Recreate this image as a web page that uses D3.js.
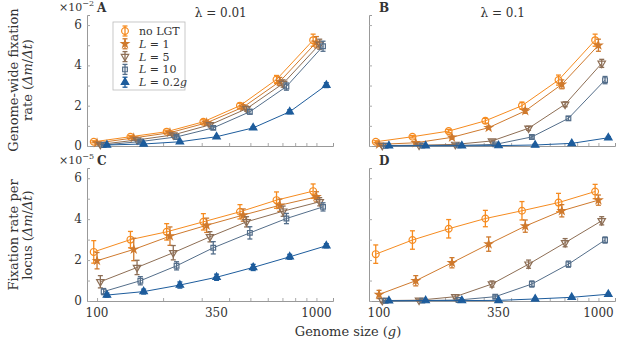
<!DOCTYPE html>
<html>
<head>
<meta charset="utf-8">
<script src="https://cdn.jsdelivr.net/npm/d3@7"></script>
<style>
  body { margin: 0; background: #fff; }
  text { font-family: "DejaVu Serif", serif; fill: #333; }
</style>
</head>
<body>
<div class="graph"></div>
<script>
// genome sizes (x) and series names
const genomeSizes = [100, 147, 215, 316, 464, 681, 1000]
const seriesNames = ["no LGT", "L = 1", "L = 5", "L = 10", "L = 0.2g"]
const seriesColors = ["#f68b1f", "#cf7a2e", "#8d6e55", "#546e8a", "#1d5c9c"]
const yTicks = [0, 2, 4, 6]
const xTicks = [100, 350, 1000]

// A: genome-wide rate, lambda = 0.01 (x10^-2)
const rateA_noLGT = [0.21, 0.46, 0.71, 1.2, 2.0, 3.3, 5.25]
const rateA_L1    = [0.15, 0.40, 0.66, 1.15, 1.93, 3.2, 5.15]
const rateA_L5    = [0.08, 0.30, 0.55, 1.05, 1.85, 3.1, 5.05]
const rateA_L10   = [0.05, 0.22, 0.45, 0.90, 1.70, 2.95, 4.95]
const rateA_L02g  = [0.05, 0.10, 0.21, 0.46, 0.90, 1.70, 3.02]
const errA_noLGT = [0.05, 0.06, 0.07, 0.1, 0.12, 0.2, 0.3]
const errA_L1    = [0.04, 0.05, 0.07, 0.1, 0.12, 0.2, 0.28]
const errA_L5    = [0.03, 0.04, 0.06, 0.09, 0.12, 0.18, 0.25]
const errA_L10   = [0.03, 0.04, 0.06, 0.08, 0.12, 0.18, 0.25]
const errA_L02g  = [0.02, 0.03, 0.04, 0.05, 0.06, 0.1, 0.12]

// B: genome-wide rate, lambda = 0.1 (x10^-2)
const rateB_noLGT = [0.21, 0.46, 0.74, 1.25, 2.0, 3.27, 5.25]
const rateB_L1    = [0.08, 0.16, 0.43, 0.91, 1.74, 3.06, 5.0]
const rateB_L5    = [0.02, 0.04, 0.08, 0.25, 0.88, 2.07, 4.1]
const rateB_L10   = [0.01, 0.02, 0.03, 0.08, 0.45, 1.37, 3.27]
const rateB_L02g  = [0.01, 0.01, 0.01, 0.02, 0.05, 0.13, 0.41]
const errB_noLGT = [0.05, 0.06, 0.08, 0.12, 0.18, 0.25, 0.3]
const errB_L1    = [0.03, 0.04, 0.06, 0.08, 0.12, 0.22, 0.3]
const errB_L5    = [0.01, 0.02, 0.03, 0.05, 0.1, 0.12, 0.2]
const errB_L10   = [0.01, 0.01, 0.02, 0.03, 0.06, 0.1, 0.18]
const errB_L02g  = [0.01, 0.01, 0.01, 0.01, 0.02, 0.03, 0.06]

// C: rate per locus, lambda = 0.01 (x10^-5)
const locC_noLGT = [2.4, 3.0, 3.38, 3.87, 4.36, 4.93, 5.37]
const locC_L1    = [1.97, 2.52, 3.17, 3.7, 4.2, 4.68, 5.09]
const locC_L5    = [0.94, 1.64, 2.36, 3.14, 3.87, 4.39, 4.85]
const locC_L10   = [0.46, 0.99, 1.72, 2.6, 3.33, 4.03, 4.6]
const locC_L02g  = [0.29, 0.46, 0.78, 1.16, 1.64, 2.16, 2.7]
const errC_noLGT = [0.55, 0.4, 0.4, 0.4, 0.35, 0.4, 0.35]
const errC_L1    = [0.4, 0.55, 0.45, 0.35, 0.3, 0.3, 0.25]
const errC_L5    = [0.3, 0.35, 0.35, 0.25, 0.25, 0.25, 0.2]
const errC_L10   = [0.15, 0.2, 0.2, 0.3, 0.3, 0.25, 0.2]
const errC_L02g  = [0.1, 0.12, 0.15, 0.15, 0.15, 0.12, 0.1]

// D: rate per locus, lambda = 0.1 (x10^-5)
const locD_noLGT = [2.29, 2.98, 3.53, 4.03, 4.41, 4.81, 5.35]
const locD_L1    = [0.32, 0.99, 1.87, 2.78, 3.66, 4.41, 4.93]
const locD_L5    = [0.02, 0.04, 0.21, 0.83, 1.8, 2.85, 3.92]
const locD_L10   = [0.01, 0.02, 0.05, 0.21, 0.83, 1.8, 2.98]
const locD_L02g  = [0.01, 0.02, 0.02, 0.03, 0.1, 0.18, 0.33]
const errD_noLGT = [0.45, 0.45, 0.45, 0.4, 0.45, 0.45, 0.35]
const errD_L1    = [0.2, 0.25, 0.25, 0.35, 0.3, 0.3, 0.25]
const errD_L5    = [0.1, 0.05, 0.1, 0.15, 0.2, 0.2, 0.2]
const errD_L10   = [0.02, 0.02, 0.03, 0.08, 0.15, 0.15, 0.15]
const errD_L02g  = [0.02, 0.02, 0.02, 0.02, 0.03, 0.04, 0.05]

const panels = [
  {label: "A", title: "λ = 0.01", col: 0, row: 0, exp: "−2", vals: [rateA_noLGT, rateA_L1, rateA_L5, rateA_L10, rateA_L02g], errs: [errA_noLGT, errA_L1, errA_L5, errA_L10, errA_L02g]},
  {label: "B", title: "λ = 0.1", col: 1, row: 0, vals: [rateB_noLGT, rateB_L1, rateB_L5, rateB_L10, rateB_L02g], errs: [errB_noLGT, errB_L1, errB_L5, errB_L10, errB_L02g]},
  {label: "C", col: 0, row: 1, exp: "−5", vals: [locC_noLGT, locC_L1, locC_L5, locC_L10, locC_L02g], errs: [errC_noLGT, errC_L1, errC_L5, errC_L10, errC_L02g]},
  {label: "D", col: 1, row: 1, vals: [locD_noLGT, locD_L1, locD_L5, locD_L10, locD_L02g], errs: [errD_noLGT, errD_L1, errD_L5, errD_L10, errD_L02g]}
]

let svgWidth = 617
let svgHeight = 342
let panelLeft = [87, 369]
let panelTop = [15, 168]
let panelW = 246
let panelH = [131, 133]
let dodge = 3.3

let svg = d3.select('.graph')
  .append('svg')
  .attr('width', svgWidth)
  .attr('height', svgHeight)

const symbols = [
  {type: d3.symbolCircle, size: 36, fill: false, rot: 0},
  {type: d3.symbolStar, size: 16, fill: true, rot: 0},
  {type: d3.symbolTriangle, size: 24, fill: false, rot: 180},
  {type: d3.symbolSquare, size: 22, fill: false, rot: 0},
  {type: d3.symbolTriangle, size: 24, fill: true, rot: 0}
]

function drawMarker(g, i, x, y, err, yScale) {
  let c = seriesColors[i]
  if (err != null) {
    let y0 = yScale(-err), y1 = yScale(err)
    let eb = g.append('g').attr('transform', `translate(${x},${y})`)
    eb.append('line').attr('x1', 0).attr('x2', 0)
      .attr('y1', y0 - yScale(0)).attr('y2', y1 - yScale(0))
      .attr('stroke', c).attr('stroke-width', 1.3)
    ;[y0, y1].forEach(yy => {
      eb.append('line').attr('x1', -2.5).attr('x2', 2.5)
        .attr('y1', yy - yScale(0)).attr('y2', yy - yScale(0))
        .attr('stroke', c).attr('stroke-width', 1.3)
    })
  }
  let s = symbols[i]
  g.append('path')
    .attr('d', d3.symbol().type(s.type).size(s.size)())
    .attr('transform', `translate(${x},${y}) rotate(${s.rot})`)
    .attr('fill', s.fill ? c : 'none')
    .attr('stroke', c)
    .attr('stroke-width', 1.2)
}

panels.forEach(p => {
  let left = panelLeft[p.col], top = panelTop[p.row], h = panelH[p.row]
  let g = svg.append('g').attr('transform', `translate(${left},${top})`)

  let xScale = d3.scaleLog().domain([90, 1190]).range([0, panelW])
  let yScale = d3.scaleLinear().domain([0, 6.5]).range([h, 0])

  // axes (ticks point inward)
  let xAxis = d3.axisBottom(xScale)
    .tickValues([100, 200, 300, 400, 500, 600, 700, 800, 900, 1000])
    .tickSize(-3).tickFormat('')
  let yAxis = d3.axisLeft(yScale)
    .tickValues([0, 1, 2, 3, 4, 5, 6])
    .tickSize(-3).tickFormat('')
  let gx = g.append('g').attr('transform', `translate(0,${h})`).call(xAxis)
  let gy = g.append('g').call(yAxis)
  ;[gx, gy].forEach(a => {
    a.select('.domain').attr('stroke', '#999')
    a.selectAll('.tick line').attr('stroke', '#aaa')
  })

  // tick labels
  if (p.row === 1) {
    g.selectAll('.xlab').data(xTicks).join('text')
      .attr('x', d => xScale(d)).attr('y', h + 16)
      .attr('text-anchor', 'middle').attr('font-size', 12)
      .text(d => d)
  }
  if (p.col === 0) {
    g.selectAll('.ylab').data(yTicks).join('text')
      .attr('x', -5).attr('y', d => yScale(d) + 4)
      .attr('text-anchor', 'end').attr('font-size', 12)
      .text(d => d)
    let t = g.append('text').attr('x', -28).attr('y', -4).attr('font-size', 11)
    t.append('tspan').text('×10')
    t.append('tspan').attr('font-size', 8).attr('dy', -5).text(p.exp)
  }

  g.append('text').attr('x', 10).attr('y', -3)
    .attr('font-size', 12).attr('font-weight', 'bold').text(p.label)
  if (p.title) {
    g.append('text').attr('x', xScale(Math.sqrt(100 * 1000)) + 14).attr('y', 2)
      .attr('text-anchor', 'middle').attr('font-size', 12).text(p.title)
  }

  // series
  p.vals.forEach((vals, i) => {
    let off = (i - 1) * dodge
    let pts = vals.map((v, k) => [xScale(genomeSizes[k]) + off, yScale(v), p.errs[i][k]])
    g.append('path')
      .attr('d', d3.line()(pts.map(d => [d[0], d[1]])))
      .attr('fill', 'none').attr('stroke', seriesColors[i]).attr('stroke-width', 1)
    pts.forEach(d => drawMarker(g, i, d[0], d[1], d[2], yScale))
  })

  // legend in panel A
  if (p.label === 'A') {
    let lg = g.append('g').attr('transform', 'translate(26,7)')
    lg.append('rect').attr('width', 72).attr('height', 68)
      .attr('fill', 'white').attr('stroke', '#bbb').attr('stroke-width', 0.8)
    seriesNames.forEach((name, i) => {
      let yy = 9 + i * 12.8
      let ls = d3.scaleLinear().domain([0, 1]).range([0, -5])
      drawMarker(lg, i, 12, yy, 1, ls)
      let t = lg.append('text').attr('x', 26).attr('y', yy + 4).attr('font-size', 11)
      if (i === 0) {
        t.text(name)
      } else {
        let parts = name.split(' = ')
        t.append('tspan').attr('font-style', 'italic').text(parts[0])
        t.append('tspan').text(' = ' + parts[1].replace('g', ''))
        if (parts[1].endsWith('g')) t.append('tspan').attr('font-style', 'italic').text('g')
      }
    })
  }
})

// axis titles
function yTitle(lines, cy) {
  let t = svg.append('text')
    .attr('transform', `translate(0,${cy}) rotate(-90)`)
    .attr('text-anchor', 'middle').attr('font-size', 13)
  lines.forEach((ln, k) => {
    let ts = t.append('tspan').attr('x', 0).attr('y', 18 + k * 14)
    ln.forEach(seg => ts.append('tspan').attr('font-style', seg[1] ? 'italic' : 'normal').text(seg[0]))
  })
}
yTitle([[["Genome-wide fixation", false]], [["rate (", false], ["Δm", true], ["/", false], ["Δt", true], [")", false]]], 80)
yTitle([[["Fixation rate per", false]], [["locus (", false], ["Δm", true], ["/", false], ["Δt", true], [")", false]]], 235)

let xt = svg.append('text').attr('x', 348).attr('y', 336)
  .attr('text-anchor', 'middle').attr('font-size', 13)
xt.append('tspan').text('Genome size (')
xt.append('tspan').attr('font-style', 'italic').text('g')
xt.append('tspan').text(')')
</script>
</body>
</html>
